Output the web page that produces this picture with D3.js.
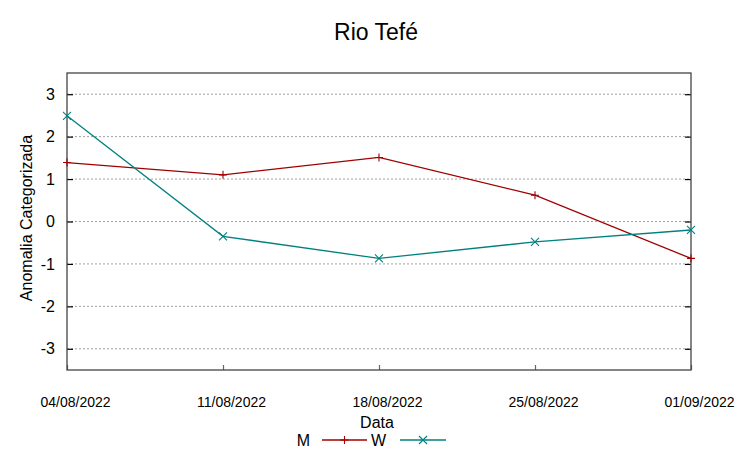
<!DOCTYPE html>
<html>
<head>
<meta charset="utf-8">
<script src="https://cdn.jsdelivr.net/npm/d3@7"></script>
<style>
  body { margin: 0; background: #fff; }
  text { font-family: "Liberation Sans", Arial, sans-serif; fill: #000; }
</style>
</head>
<body>
<div id="chart"></div>
<script>
// data
var dates = ["04/08/2022", "11/08/2022", "18/08/2022", "25/08/2022", "01/09/2022"];
var seriesM = [1.39, 1.10, 1.51, 0.62, -0.87];
var seriesW = [2.49, -0.35, -0.87, -0.48, -0.20];
var yTicks = [-3, -2, -1, 0, 1, 2, 3];

var svgWidth = 753;
var svgHeight = 458;
var margin = { top: 73, bottom: 88, right: 62, left: 67 };
var width = svgWidth - margin.left - margin.right;
var height = svgHeight - margin.top - margin.bottom;

var svg = d3.select("#chart")
  .append("svg")
  .attr("width", svgWidth)
  .attr("height", svgHeight);

var chartGroup = svg.append("g")
  .attr("transform", `translate(${margin.left}, ${margin.top})`);

var parseDate = d3.timeParse("%d/%m/%Y");
var dateVals = dates.map(parseDate);

// scales
var xScale = d3.scaleTime()
  .domain(d3.extent(dateVals))
  .range([0, width]);

var yScale = d3.scaleLinear()
  .domain([-3.5, 3.5])
  .range([height, 0]);

// grid lines (dotted)
chartGroup.append("g").selectAll("line")
  .data(yTicks)
  .enter()
  .append("line")
  .attr("x1", 0)
  .attr("x2", width)
  .attr("y1", d => yScale(d))
  .attr("y2", d => yScale(d))
  .attr("stroke", "#a0a0a0")
  .attr("stroke-width", 1)
  .attr("stroke-dasharray", "2,2");

// left axis, ticks inward (plain hyphen minus like the reference)
var yAxis = d3.axisLeft(yScale).tickValues(yTicks).tickSize(-6).tickPadding(12).tickFormat(d => String(d));
var yG = chartGroup.append("g").call(yAxis);
yG.select(".domain").remove();
yG.selectAll("line").attr("stroke", "#000").attr("stroke-width", 1.2);
yG.selectAll("text").attr("font-size", "16px").attr("font-family", "Liberation Sans, Arial, sans-serif");

// right mirror ticks
var yRight = d3.axisRight(yScale).tickValues(yTicks).tickSize(-6).tickFormat("");
var yRG = chartGroup.append("g").attr("transform", `translate(${width}, 0)`).call(yRight);
yRG.select(".domain").remove();
yRG.selectAll("line").attr("stroke", "#000").attr("stroke-width", 1.2);

// bottom axis, small inward ticks
var xAxis = d3.axisBottom(xScale).tickValues(dateVals).tickSize(-5).tickPadding(0).tickFormat(d3.timeFormat("%d/%m/%Y"));
var xG = chartGroup.append("g").attr("transform", `translate(0, ${height})`).call(xAxis);
xG.select(".domain").remove();
xG.selectAll("line").attr("stroke", "#666").attr("stroke-width", 1.2);
xG.selectAll("text")
  .attr("font-size", "14px")
  .attr("font-family", "Liberation Sans, Arial, sans-serif")
  .attr("dx", 8)
  .attr("dy", 0)
  .attr("y", 37);

// frame
chartGroup.append("rect")
  .attr("x", 0)
  .attr("y", 0)
  .attr("width", width)
  .attr("height", height)
  .attr("fill", "none")
  .attr("stroke", "#444")
  .attr("stroke-width", 1.3);

// lines
var series = [
  { name: "M", values: seriesM, color: "#a00000", marker: "plus" },
  { name: "W", values: seriesW, color: "#008080", marker: "cross" }
];

var line = d3.line()
  .x((d, i) => xScale(dateVals[i]))
  .y(d => yScale(d));

function drawMarker(g, x, y, type, color) {
  var s = 4;
  if (type === "plus") {
    g.append("path").attr("d", `M${x - s},${y}H${x + s}M${x},${y - s}V${y + s}`)
      .attr("stroke", color).attr("stroke-width", 1.1).attr("fill", "none");
  } else {
    g.append("path").attr("d", `M${x - s},${y - s}L${x + s},${y + s}M${x - s},${y + s}L${x + s},${y - s}`)
      .attr("stroke", color).attr("stroke-width", 1.1).attr("fill", "none");
  }
}

series.forEach(function(s) {
  chartGroup.append("path")
    .datum(s.values)
    .attr("d", line)
    .attr("fill", "none")
    .attr("stroke", s.color)
    .attr("stroke-width", 1.3);
  var mg = chartGroup.append("g");
  s.values.forEach(function(v, i) {
    drawMarker(mg, xScale(dateVals[i]), yScale(v), s.marker, s.color);
  });
});

// title
svg.append("text")
  .attr("x", 376)
  .attr("y", 40)
  .attr("text-anchor", "middle")
  .attr("font-size", "23px")
  .text("Rio Tefé");

// x label
svg.append("text")
  .attr("x", 377)
  .attr("y", 428)
  .attr("text-anchor", "middle")
  .attr("font-size", "16px")
  .text("Data");

// y label
svg.append("text")
  .attr("transform", "rotate(-90)")
  .attr("x", -218)
  .attr("y", 32)
  .attr("text-anchor", "middle")
  .attr("font-size", "16px")
  .text("Anomalia Categorizada");

// legend
var legend = svg.append("g");
var legendItems = [
  { name: "M", color: "#a00000", marker: "plus", tx: 310, x1: 322, x2: 367 },
  { name: "W", color: "#008080", marker: "cross", tx: 386, x1: 400, x2: 446 }
];
legendItems.forEach(function(d) {
  legend.append("text")
    .attr("x", d.tx)
    .attr("y", 446)
    .attr("text-anchor", "end")
    .attr("font-size", "16px")
    .text(d.name);
  legend.append("line")
    .attr("x1", d.x1).attr("x2", d.x2)
    .attr("y1", 440).attr("y2", 440)
    .attr("stroke", d.color)
    .attr("stroke-width", 1.3);
  drawMarker(legend, (d.x1 + d.x2) / 2, 440, d.marker, d.color);
});
</script>
</body>
</html>
